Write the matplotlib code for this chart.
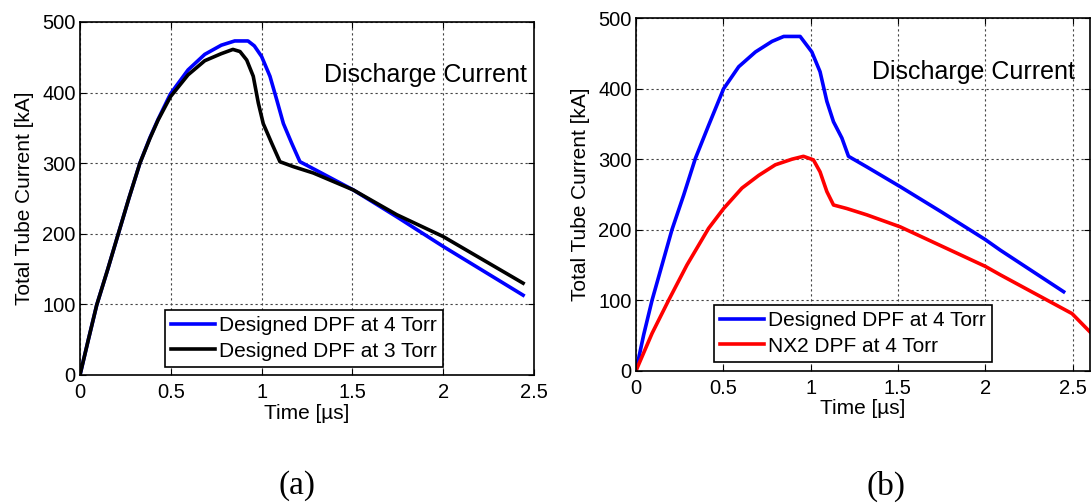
import matplotlib
matplotlib.use("Agg")
import matplotlib.pyplot as plt

plt.rcParams["font.family"] = ["Liberation Sans", "DejaVu Sans"]

# (a) designed DPF, 4 Torr vs 3 Torr  (time in us, current in kA)
t_a4 = [0, 0.046, 0.092, 0.152, 0.211, 0.269, 0.330, 0.385, 0.43, 0.498, 0.595,
        0.687, 0.778, 0.852, 0.925, 0.96, 1.0, 1.046, 1.083, 1.12, 1.166, 1.211,
        1.30, 1.505, 1.744, 2.0, 2.44]
i_a4 = [0, 50, 99, 149, 200, 250, 300, 336, 362, 398, 432,
        454, 467, 473, 473, 466, 451, 423, 390, 356, 328, 302,
        290, 262, 224, 182, 113]
t_a3 = [0, 0.046, 0.092, 0.152, 0.211, 0.269, 0.330, 0.385, 0.43, 0.498, 0.595,
        0.687, 0.778, 0.842, 0.881, 0.918, 0.954, 0.982, 1.009, 1.056, 1.101,
        1.175, 1.285, 1.505, 1.744, 2.0, 2.44]
i_a3 = [0, 50, 99, 149, 200, 250, 300, 335, 361, 394, 425,
        445, 455, 461, 458, 446, 423, 385, 356, 328, 302,
        295, 286, 262, 227, 196, 130]

# (b) designed DPF vs NX2 DPF at 4 Torr
t_b4 = [0, 0.044, 0.092, 0.149, 0.206, 0.273, 0.34, 0.416, 0.502, 0.588, 0.684,
        0.779, 0.846, 0.94, 1.007, 1.054, 1.093, 1.131, 1.179, 1.217, 1.322,
        1.513, 1.75, 2.0, 2.086, 2.449]
i_b4 = [0, 51, 100, 150, 200, 249, 301, 348, 400, 431, 452,
        467, 474, 474, 452, 424, 382, 353, 330, 304, 289,
        261, 225, 186, 171, 112]
t_nx = [0, 0.092, 0.187, 0.292, 0.416, 0.502, 0.607, 0.703, 0.798, 0.894, 0.959,
        1.016, 1.054, 1.093, 1.131, 1.207, 1.322, 1.513, 2.0, 2.086, 2.497, 2.6]
i_nx = [0, 53, 100, 150, 202, 230, 259, 277, 292, 300, 304,
        299, 282, 254, 235, 230, 221, 204, 148, 136, 81, 55]

x_ticks = [0, 0.5, 1, 1.5, 2, 2.5]
y_ticks = [0, 100, 200, 300, 400, 500]

fig = plt.figure(figsize=(10.91, 5.03), dpi=100)
ax1 = fig.add_axes([80 / 1091, 0.2545, 454 / 1091, 0.702])
ax2 = fig.add_axes([636 / 1091, 0.2630, 454 / 1091, 0.701])


def style(ax, xmax):
    ax.set_xlim(0, xmax)
    ax.set_ylim(0, 500)
    ax.set_xticks(x_ticks)
    ax.set_xticklabels(["0", "0.5", "1", "1.5", "2", "2.5"])
    ax.set_yticks(y_ticks)
    ax.grid(True, linestyle=(0, (2, 2.5)), color="#444444", linewidth=0.8)
    ax.tick_params(direction="in", top=True, right=True, labelsize=14.5,
                   length=4)
    ax.tick_params(axis="x", pad=6)
    ax.tick_params(axis="y", pad=3)
    for s in ax.spines.values():
        s.set_linewidth(1.2)
    ax.set_xlabel("Time [\u00b5s]", fontsize=15, labelpad=1)
    ax.set_ylabel("Total Tube Current [kA]", fontsize=15, labelpad=6)


leg_kw = dict(loc="lower left", fontsize=15, frameon=True, fancybox=False,
              edgecolor="black", framealpha=1, handlelength=2.1,
              handletextpad=0.2, borderpad=0.3, labelspacing=0.3,
              borderaxespad=0)

ax1.plot(t_a4, i_a4, color="#0000ff", lw=2.6, label="Designed DPF at 4 Torr")
ax1.plot(t_a3, i_a3, color="black", lw=2.6, label="Designed DPF at 3 Torr")
style(ax1, 2.5)
ax1.text(0.985, 0.85, "Discharge Current", transform=ax1.transAxes,
         ha="right", va="center", fontsize=18)
ax1.legend(bbox_to_anchor=(0.187, 0.023), **leg_kw).get_frame().set_linewidth(1.2)

ax2.plot(t_b4, i_b4, color="#0000ff", lw=2.6, label="Designed DPF at 4 Torr")
ax2.plot(t_nx, i_nx, color="#ff0000", lw=2.6, label="NX2 DPF at 4 Torr")
style(ax2, 2.6)
ax2.text(0.967, 0.847, "Discharge Current", transform=ax2.transAxes,
         ha="right", va="center", fontsize=18)
ax2.legend(bbox_to_anchor=(0.172, 0.025), **leg_kw).get_frame().set_linewidth(1.2)

fig.text(297 / 1091, 1 - 486 / 503, "(a)", ha="center", va="center",
         fontsize=24, family="Liberation Serif")
fig.text(886 / 1091, 1 - 486 / 503, "(b)", ha="center", va="center",
         fontsize=24, family="Liberation Serif")

fig.savefig("out.png", dpi=100)
